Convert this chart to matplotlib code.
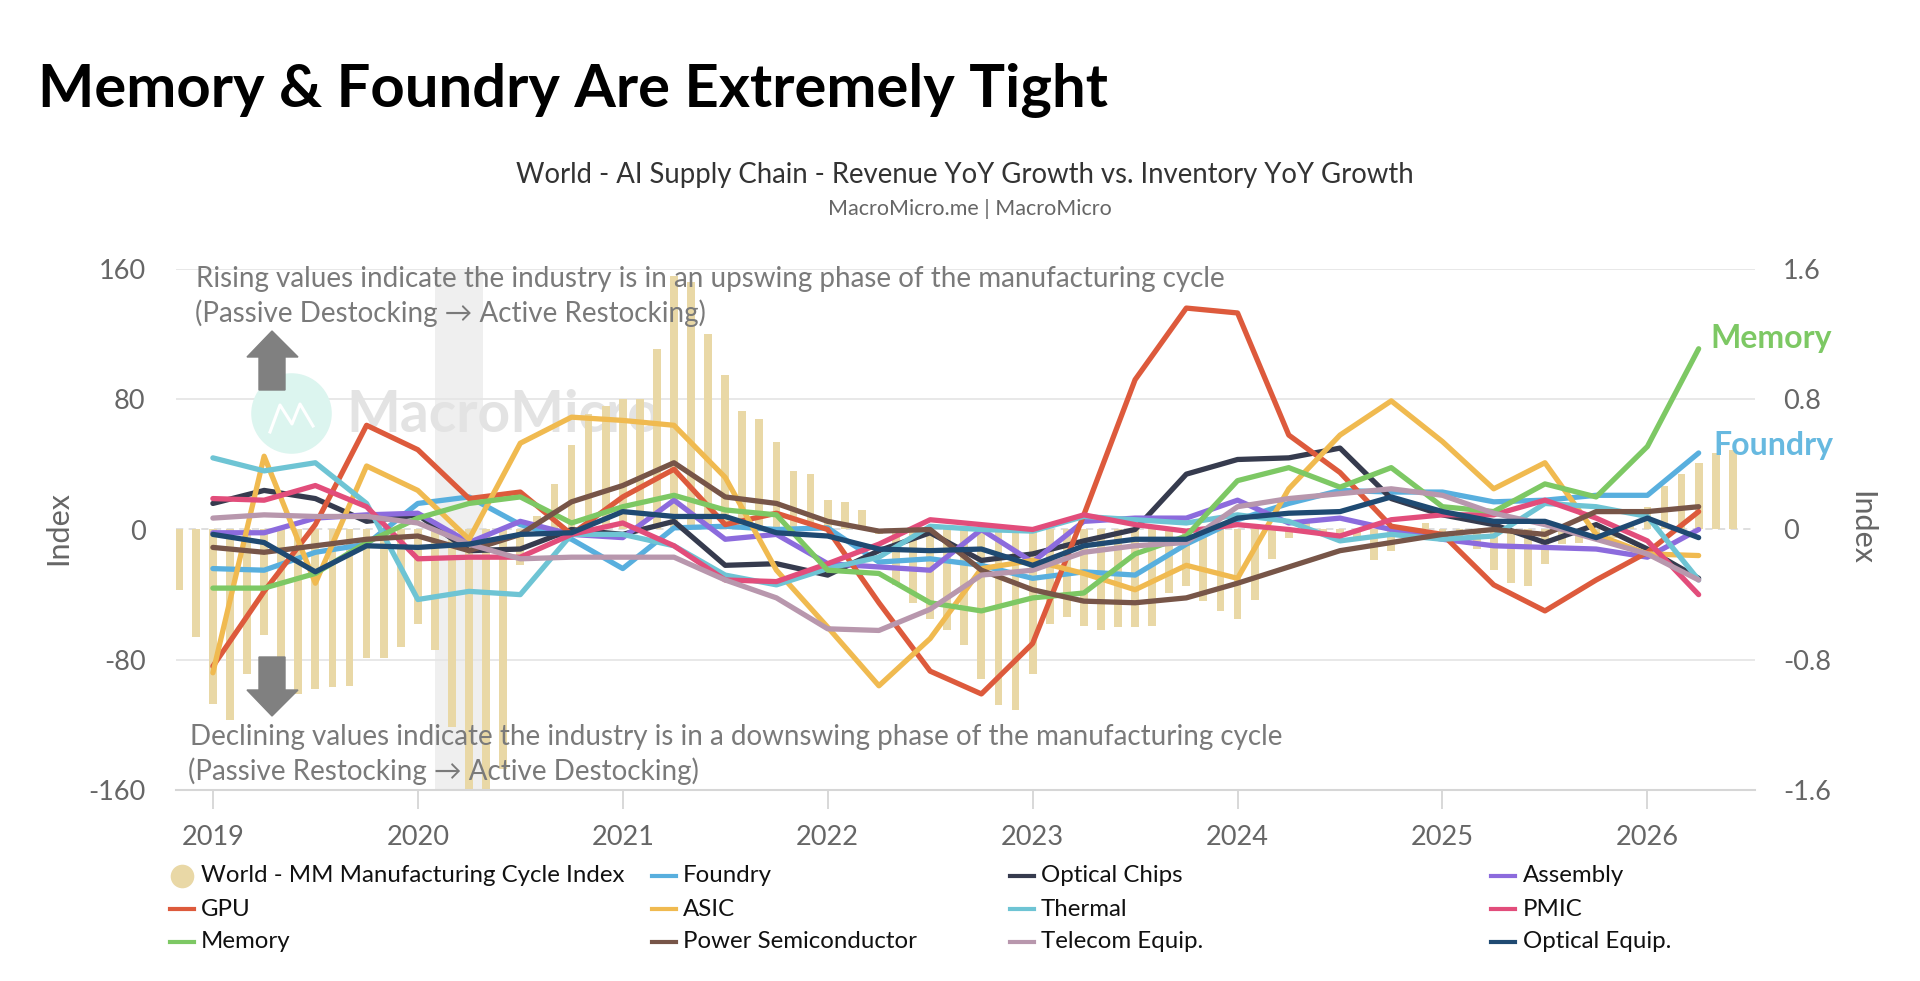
import matplotlib
matplotlib.use('Agg')
import matplotlib.pyplot as plt
from matplotlib.lines import Line2D
from matplotlib.patches import Polygon
import pandas as pd

plt.rcParams['font.family'] = ['Lato', 'DejaVu Sans']

W, H = 1920, 981

# quarterly revenue-vs-inventory series, monthly cycle index
quarters = pd.period_range('2019Q1', '2026Q2', freq='Q')
q_pos = quarters.year + (quarters.quarter - 1) / 4
months = pd.period_range('2018-11', '2026-06', freq='M')
m_pos = months.year + (months.month - 1) / 12

world_cycle = [
    -0.37, -0.66,
    -1.07, -1.17, -0.89, -0.65, -0.85, -1.01, -0.98, -0.97, -0.96, -0.79, -0.79, -0.72,
    -0.58, -0.74, -1.21, -1.62, -1.62, -1.47, -0.22, 0.08, 0.28, 0.52, 0.71, 0.76,
    0.80, 0.80, 1.11, 1.56, 1.52, 1.20, 0.95, 0.73, 0.68, 0.54, 0.36, 0.34,
    0.18, 0.17, 0.12, -0.03, -0.34, -0.45, -0.55, -0.62, -0.71, -0.92, -1.08, -1.11,
    -0.89, -0.58, -0.54, -0.59, -0.62, -0.60, -0.60, -0.59, -0.39, -0.35, -0.44, -0.50,
    -0.55, -0.43, -0.18, -0.05, 0.06, -0.03, -0.04, -0.06, -0.19, -0.13, -0.03, 0.04,
    -0.02, -0.06, -0.12, -0.25, -0.33, -0.35, -0.21, -0.09, -0.08, -0.03, -0.05, 0.03,
    0.14, 0.27, 0.34, 0.41, 0.47, 0.49,
]

foundry = [-24, -25, -14, -9, 16, 20, 3, -6, -24, 1, 2, 0, 1, -20, -18, -22,
           -30, -26, -28, -9, 6, 16, 24, 23, 23, 17, 18, 21, 21, 47]
optical_chips = [16, 24, 19, 5, 9, -13, -12, 0, -3, 5, -22, -21, -28, -13, -2, -19,
                 -15, -7, 0, 34, 43, 44, 50, 19, 9, 3, -8, 3, -12, -30]
assembly = [-2, -2, 7, 9, 10, -8, 5, -3, -5, 18, -6, -3, -21, -23, -25, 0,
            -20, 5, 7, 7, 18, 4, 7, 0, -6, -10, -11, -12, -17, 0]
gpu = [-84, -38, 3, 64, 49, 19, 23, -3, 20, 37, 3, 10, 0, -45, -87, -101,
       -70, 9, 92, 136, 133, 58, 35, 2, -3, -34, -50, -31, -14, 11]
asic = [-88, 45, -33, 39, 24, -6, 53, 69, 67, 64, 32, -25, -60, -96, -67, -24,
        -19, -27, -37, -22, -30, 25, 58, 79, 54, 25, 41, -3, -15, -16]
thermal = [44, 36, 41, 16, -43, -38, -40, -3, -3, -10, -28, -34, -24, -17, 2, 0,
           -1, 8, 6, 4, 9, 5, -7, -3, -6, -4, 16, 14, 8, -31]
pmic = [19, 18, 27, 14, -18, -17, -17, -3, 4, -10, -31, -32, -21, -9, 6, 3,
        0, 9, 3, -1, 3, 0, -4, 6, 9, 9, 18, 7, -7, -40]
memory = [-36, -36, -27, -8, 7, 16, 20, 4, 14, 21, 12, 9, -25, -27, -45, -50,
          -42, -39, -15, -4, 30, 38, 26, 38, 14, 11, 28, 20, 51, 111]
power_semi = [-11, -14, -10, -6, -4, -13, -3, 17, 27, 41, 20, 16, 5, -1, 0, -25,
              -37, -44, -45, -42, -33, -23, -13, -8, -3, 0, -3, 11, 11, 14]
telecom = [7, 9, 8, 8, 4, -9, -18, -17, -17, -17, -31, -42, -61, -62, -49, -28,
           -25, -14, -10, -8, 14, 19, 22, 25, 21, 10, 3, -6, -15, -31]
optical_equip = [-3, -8, -26, -10, -11, -9, -3, -2, 11, 8, 8, -2, -4, -12, -13, -12,
                 -22, -10, -6, -6, 7, 10, 11, 20, 11, 5, 5, -5, 7, -5]

# (name, values, colour, legend column, legend row)
series = [
    ('Foundry', foundry, '#58AFDE', 1, 0),
    ('Optical Chips', optical_chips, '#363B4E', 2, 0),
    ('Assembly', assembly, '#8C6BDD', 3, 0),
    ('GPU', gpu, '#DD5A3C', 0, 1),
    ('ASIC', asic, '#F0BA50', 1, 1),
    ('Thermal', thermal, '#6EC4D4', 2, 1),
    ('PMIC', pmic, '#E24D7B', 3, 1),
    ('Memory', memory, '#7DC864', 0, 2),
    ('Power Semiconductor', power_semi, '#775548', 1, 2),
    ('Telecom Equip.', telecom, '#B897AD', 2, 2),
    ('Optical Equip.', optical_equip, '#1F4A72', 3, 2),
]
BAR_COLOR = '#E9D8A6'
GRAY = '#666666'


def px(x, y):
    return x / W, 1 - y / H


fig = plt.figure(figsize=(W / 100, H / 100), dpi=100)
left, top, right, bottom = 176, 269, 1755, 790
ax = fig.add_axes([left / W, 1 - bottom / H, (right - left) / W, (bottom - top) / H])
ax2 = ax.twinx()
ax.set_zorder(2)
ax2.set_zorder(1)
ax.patch.set_visible(False)

# background: band, grid, bars
ax2.axvspan(2020.083, 2020.32, color='#efefef', zorder=0.3, lw=0)
for v in (1.6, 0.8, -0.8):
    ax2.axhline(v, color='#e6e6e6', lw=1.3, zorder=0.4)
ax2.axhline(0, color='#dcdcdc', lw=1.3, ls=(0, (4, 3)), zorder=0.4)
ax2.bar(m_pos, world_cycle, width=0.038, color=BAR_COLOR, zorder=2, lw=0)
ax2.set_ylim(-1.6, 1.6)

# watermark
ax2.add_line(Line2D([291 / W], [1 - 413 / H], marker='o', ms=58, color='#dcf5ef',
                    mec='none', transform=fig.transFigure, zorder=0.5))
ax2.add_line(Line2D([270 / W, 280 / W, 292 / W, 300 / W, 313 / W],
                    [1 - 432 / H, 1 - 405 / H, 1 - 424 / H, 1 - 404 / H, 1 - 426 / H],
                    color='white', lw=2.2, transform=fig.transFigure, zorder=0.6))
ax2.text(*px(346, 432), 'MacroMicro', transform=fig.transFigure, fontsize=41,
         fontweight='bold', color='#e3e3e3', va='baseline', zorder=0.5)

for name, vals, color, _, _ in series:
    ax.plot(q_pos, vals, color=color, lw=3.8, solid_joinstyle='round',
            solid_capstyle='round', label=name)

ax.set_xlim(2018.82, 2026.525)
ax.set_ylim(-160, 160)
ax.set_yticks([-160, -80, 0, 80, 160])
ax.set_yticklabels(['-160', '-80', '0', '80', '160'])
ax2.set_yticks([-1.6, -0.8, 0, 0.8, 1.6])
ax2.set_yticklabels(['-1.6', '-0.8', '0', '0.8', '1.6'])
ax.set_xticks(range(2019, 2027))
ax.tick_params(axis='y', length=0, pad=22, labelsize=19.5, labelcolor=GRAY)
ax2.tick_params(axis='y', length=0, pad=20, labelsize=19.5, labelcolor=GRAY)
ax.tick_params(axis='x', length=14, width=1.3, color='#d6d6d6', pad=11,
               labelsize=19.5, labelcolor=GRAY)
for s in ('top', 'left', 'right'):
    ax.spines[s].set_visible(False)
ax.spines['bottom'].set_color('#d6d6d6')
ax.spines['bottom'].set_linewidth(1.5)
for s in ax2.spines.values():
    s.set_visible(False)

fig.text(*px(58, 528), 'Index', rotation=90, ha='center', va='center',
         fontsize=22, color=GRAY)
fig.text(*px(1861, 528), 'Index', rotation=-90, ha='center', va='center',
         fontsize=22, color=GRAY)

# titles
fig.text(*px(38, 107), 'Memory & Foundry Are Extremely Tight', fontsize=43,
         fontweight='bold', color='black', va='baseline')
fig.text(*px(965, 183), 'World - AI Supply Chain - Revenue YoY Growth vs. Inventory YoY Growth',
         fontsize=19.8, color='#333333', ha='center', va='baseline')
fig.text(*px(970, 215), 'MacroMicro.me | MacroMicro', fontsize=15.5, color=GRAY,
         ha='center', va='baseline')

# annotations and arrows
note_kw = dict(fontsize=20, color='#7a7a7a', va='baseline', zorder=5)
fig.text(*px(196, 287), 'Rising values indicate the industry is in an upswing phase of the manufacturing cycle', **note_kw)
fig.text(*px(195, 322), '(Passive Destocking \u2192 Active Restocking)', **note_kw)
fig.text(*px(190, 745), 'Declining values indicate the industry is in a downswing phase of the manufacturing cycle', **note_kw)
fig.text(*px(188, 780), '(Passive Restocking \u2192 Active Destocking)', **note_kw)

up = [(272, 331), (298, 357), (285, 357), (285, 390), (259, 390), (259, 357), (247, 357)]
down = [(259, 657), (285, 657), (285, 690), (298, 690), (272, 716), (247, 690), (259, 690)]
for pts in (up, down):
    fig.add_artist(Polygon([px(x, y) for x, y in pts], closed=True, color='#808080',
                           transform=fig.transFigure, zorder=6))

# end labels
fig.text(*px(1710, 348), 'Memory', fontsize=23, fontweight='bold', color='#7DC864', va='baseline')
fig.text(*px(1713, 455), 'Foundry', fontsize=23, fontweight='bold', color='#67B9E0', va='baseline')

# legend
col_mark = [170, 652, 1010, 1491]
col_text = [201, 683, 1041, 1523]
row_y = [876, 909, 942]
leg_kw = dict(fontsize=17.3, color='#111111', va='center')
fig.add_artist(Line2D([182 / W], [1 - row_y[0] / H], marker='o', ms=17, color=BAR_COLOR,
                      mec='none', transform=fig.transFigure))
fig.text(*px(col_text[0], row_y[0]), 'World - MM Manufacturing Cycle Index', **leg_kw)
for name, _, color, c, r in series:
    y = 1 - row_y[r] / H
    fig.add_artist(Line2D([col_mark[c] / W, (col_mark[c] + 24) / W], [y, y], color=color,
                          lw=3, transform=fig.transFigure))
    fig.text(col_text[c] / W, y, name, **leg_kw)

fig.savefig('out.png', dpi=100, facecolor='white')
